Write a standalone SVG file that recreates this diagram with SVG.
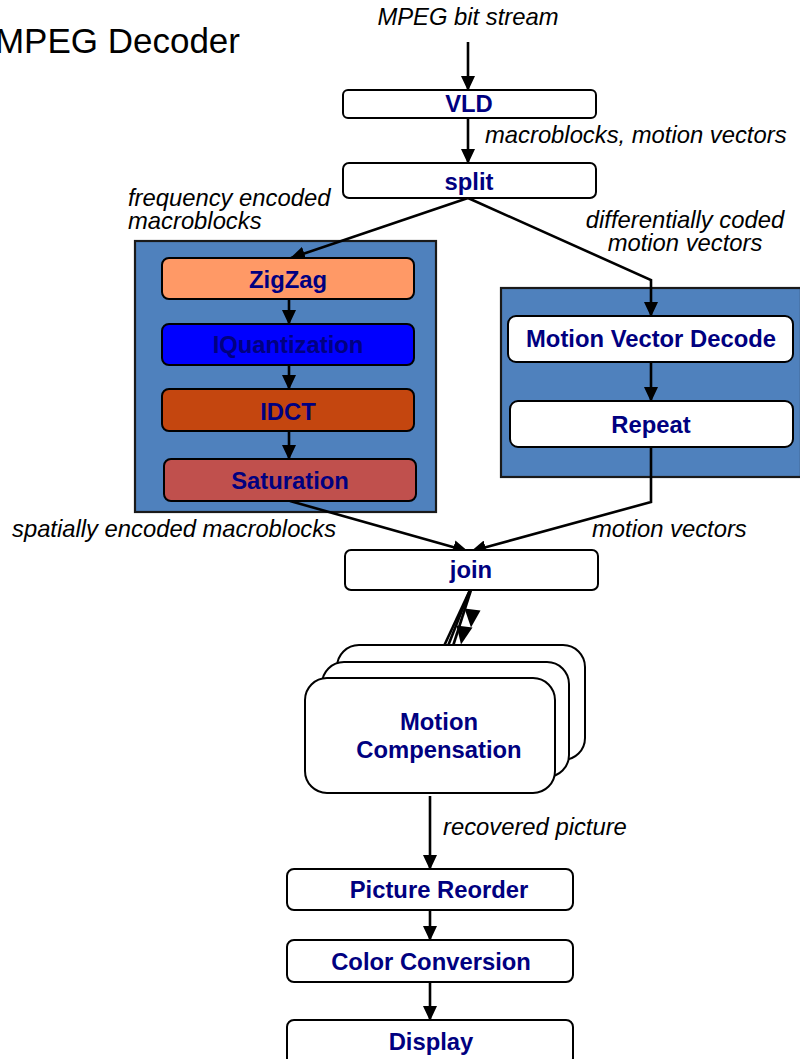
<svg xmlns="http://www.w3.org/2000/svg" width="800" height="1059" viewBox="0 0 800 1059">
  <style>
    .lbl { font-family: "Liberation Sans", Arial, sans-serif; font-size: 23.8px; font-style: italic; fill: #000; }
    .name { font-family: "Liberation Sans", Arial, sans-serif; font-size: 23.8px; font-weight: bold; fill: #000080; text-anchor: middle; }
    .box { stroke: #000; stroke-width: 2; }
    .white { fill: #fff; }
    .frame { fill: #4F81BD; stroke: #1a1a1a; stroke-width: 2.2; }
    .wire { fill: none; stroke: #000; stroke-width: 2.6; }
  </style>
  <defs>
    <marker id="head" viewBox="0 0 15 14" refX="14" refY="7" markerWidth="15" markerHeight="14" markerUnits="userSpaceOnUse" orient="auto">
      <path d="M0,0 L15,7 L0,14 z" fill="#000"/>
    </marker>
  </defs>

  <rect width="800" height="1059" fill="#fff"/>

  <text x="240" y="53" font-family="Liberation Sans, Arial, sans-serif" font-size="35" text-anchor="end" fill="#000">MPEG Decoder</text>

  <!-- containers -->
  <rect id="frame-left" class="frame" x="135" y="241" width="301" height="271"/>
  <rect id="frame-right" class="frame" x="501" y="288" width="300" height="189"/>

  <!-- connectors -->
  <g id="connectors">
    <line class="wire" x1="468" y1="42" x2="468" y2="90" marker-end="url(#head)"/>
    <line class="wire" x1="468" y1="118" x2="468" y2="163" marker-end="url(#head)"/>
    <line class="wire" x1="468" y1="198" x2="291" y2="258" marker-end="url(#head)"/>
    <polyline class="wire" points="468,198 651,280 651,316" marker-end="url(#head)"/>
    <line class="wire" x1="289" y1="299" x2="289" y2="324" marker-end="url(#head)"/>
    <line class="wire" x1="289" y1="365" x2="289" y2="389" marker-end="url(#head)"/>
    <line class="wire" x1="289" y1="431" x2="289" y2="459" marker-end="url(#head)"/>
    <line class="wire" x1="651" y1="362" x2="651" y2="401" marker-end="url(#head)"/>
    <line class="wire" x1="290" y1="501" x2="467" y2="551" marker-end="url(#head)"/>
    <polyline class="wire" points="651,447 651,502 472,551" marker-end="url(#head)"/>
    <!-- join fans out to the three motion compensation instances -->
    <line class="wire" stroke-width="2" x1="470" y1="590" x2="444" y2="646"/>
    <line class="wire" stroke-width="2" x1="470" y1="590" x2="448" y2="646"/>
    <line class="wire" stroke-width="2" x1="471" y1="590" x2="453" y2="646"/>
    <polygon points="464.5,608.5 480.5,610.5 471,627.5" fill="#000"/>
    <polygon points="456.5,625.5 472.5,627.5 461,644.5" fill="#000"/>
    <line class="wire" x1="430" y1="796" x2="430" y2="869" marker-end="url(#head)"/>
    <line class="wire" x1="430" y1="910" x2="430" y2="940" marker-end="url(#head)"/>
    <line class="wire" x1="430" y1="982" x2="430" y2="1020" marker-end="url(#head)"/>
  </g>

  <!-- edge labels -->
  <text class="lbl" x="468" y="25" text-anchor="middle">MPEG bit stream</text>
  <text class="lbl" x="485" y="143">macroblocks, motion vectors</text>
  <text class="lbl" x="128" y="206">frequency encoded</text>
  <text class="lbl" x="128" y="229">macroblocks</text>
  <text class="lbl" x="685" y="228" text-anchor="middle">differentially coded</text>
  <text class="lbl" x="685" y="251" text-anchor="middle">motion vectors</text>
  <text class="lbl" x="12" y="537">spatially encoded macroblocks</text>
  <text class="lbl" x="592" y="537">motion vectors</text>
  <text class="lbl" x="443" y="835">recovered picture</text>

  <g id="vld">
    <rect class="box white" x="343" y="90" width="253" height="28" rx="5"/>
    <text class="name" x="469" y="112">VLD</text>
  </g>
  <g id="split">
    <rect class="box white" x="343" y="163" width="253" height="35" rx="6"/>
    <text class="name" x="469" y="190">split</text>
  </g>

  <g id="zigzag">
    <rect class="box" fill="#FF9966" x="162" y="258" width="252" height="41" rx="7"/>
    <text class="name" x="288" y="288">ZigZag</text>
  </g>
  <g id="iquantization">
    <rect class="box" fill="#0000FF" x="162" y="324" width="252" height="41" rx="7"/>
    <text class="name" x="288" y="353">IQuantization</text>
  </g>
  <g id="idct">
    <rect class="box" fill="#C4460F" x="162" y="389" width="252" height="42" rx="7"/>
    <text class="name" x="288" y="420">IDCT</text>
  </g>
  <g id="saturation">
    <rect class="box" fill="#C0504D" x="164" y="459" width="252" height="42" rx="7"/>
    <text class="name" x="290" y="489">Saturation</text>
  </g>

  <g id="motion-vector-decode">
    <rect class="box white" x="508" y="316" width="285" height="46" rx="8"/>
    <text class="name" x="651" y="347">Motion Vector Decode</text>
  </g>
  <g id="repeat">
    <rect class="box white" x="510" y="401" width="283" height="46" rx="8"/>
    <text class="name" x="651" y="433">Repeat</text>
  </g>

  <g id="join">
    <rect class="box white" x="345" y="550" width="253" height="40" rx="6"/>
    <text class="name" x="471" y="578">join</text>
  </g>

  <g id="motion-compensation">
    <rect class="box white" x="337" y="645" width="248" height="115" rx="22"/>
    <rect class="box white" x="322" y="662" width="247" height="115" rx="22"/>
    <rect class="box white" x="305" y="678" width="250" height="115" rx="22"/>
    <text class="name" x="439" y="730">Motion</text>
    <text class="name" x="439" y="758">Compensation</text>
  </g>

  <g id="picture-reorder">
    <rect class="box white" x="287" y="869" width="286" height="41" rx="7"/>
    <text class="name" x="439" y="898">Picture Reorder</text>
  </g>
  <g id="color-conversion">
    <rect class="box white" x="287" y="940" width="286" height="42" rx="7"/>
    <text class="name" x="431" y="970">Color Conversion</text>
  </g>
  <g id="display">
    <rect class="box white" x="287" y="1020" width="286" height="45" rx="7"/>
    <text class="name" x="431" y="1050">Display</text>
  </g>
</svg>
